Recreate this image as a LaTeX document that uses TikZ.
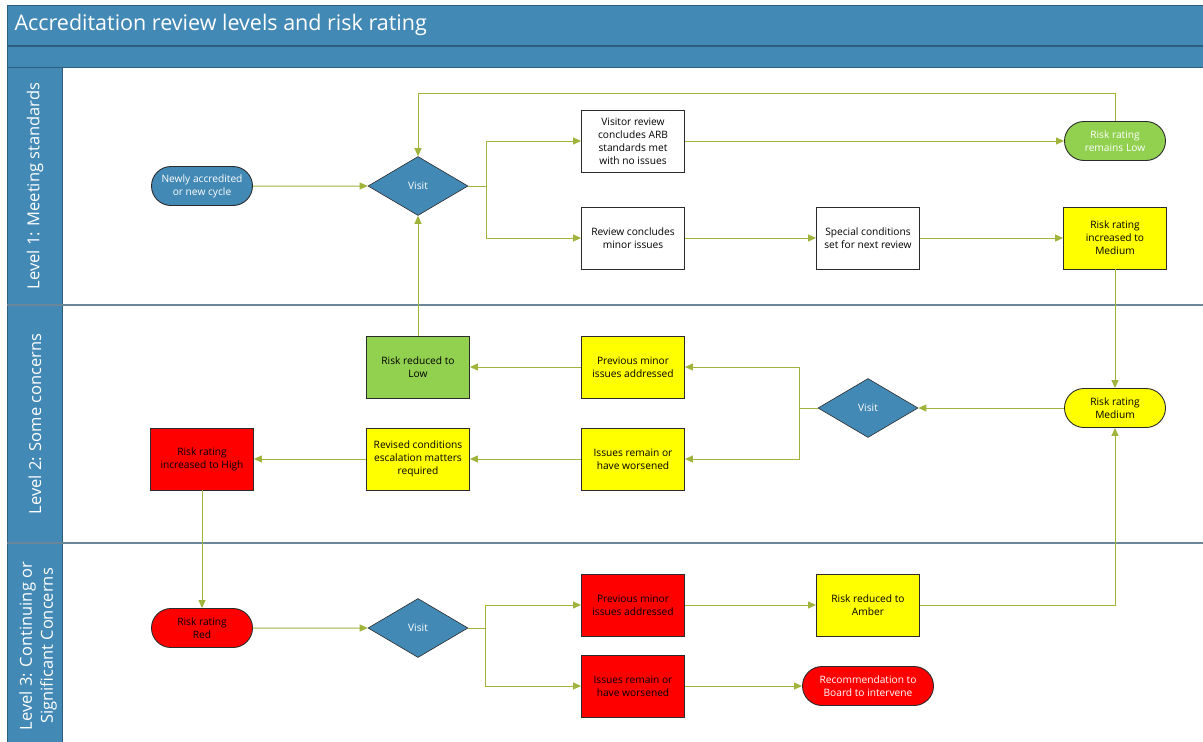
\documentclass[tikz,border=0pt]{standalone}
\usepackage{fontspec}
\setmainfont{Open Sans}
\usetikzlibrary{shapes.geometric,shapes.misc,arrows.meta}
\definecolor{hdr}{HTML}{4389B5}
\definecolor{hdrline}{HTML}{2E5E7E}
\definecolor{laneline}{HTML}{6A8698}
\definecolor{arrc}{HTML}{A0B43C}
\definecolor{grn}{HTML}{92D050}
\definecolor{yel}{HTML}{FFFF00}
\definecolor{rd}{HTML}{FF0000}
\definecolor{bord}{HTML}{2B2B2B}
\begin{document}
\begin{tikzpicture}[x=1pt,y=-1pt,
  txt/.style={font=\fontsize{10.2}{13}\selectfont, align=center, text=black},
  box/.style={txt, rectangle, draw=bord, line width=0.9pt, minimum width=103pt, minimum height=62pt, inner sep=1pt},
  term/.style={txt, rounded rectangle, draw=bord, line width=0.9pt, minimum width=103pt, minimum height=39pt, inner sep=1pt},
  dec/.style={txt, diamond, draw=bord, line width=0.6pt, fill=hdr, text=white, minimum width=100pt, minimum height=59pt, inner sep=0pt},
  arr/.style={draw=arrc, line width=1pt, -{Triangle[length=8pt,width=7pt]}},
  lanelabel/.style={text=white, rotate=90, font=\fontsize{16.5}{21}\selectfont, align=center}
]
\useasboundingbox (0,0) rectangle (1203,742);
% frame
\fill[hdr] (7,5) rectangle (1203,67);
\fill[hdr] (7,67) rectangle (62,742);
\draw[hdrline, line width=1pt] (7,742) -- (7,5) -- (1203,5);
\draw[hdrline, line width=1.2pt] (7,46) -- (1203,46);
\draw[hdrline, line width=1pt] (7,67) -- (1203,67);
\draw[hdrline, line width=1pt] (62,67) -- (62,742);
\draw[laneline, line width=1.6pt] (7,305) -- (1203,305);
\draw[laneline, line width=1.6pt] (7,543) -- (1203,543);
\node[anchor=west, text=white, font=\fontsize{21.5}{24}\selectfont] (title) at (11,25) {Accreditation review levels and risk rating};
\node[lanelabel] (l1) at (35,186) {Level 1: Meeting standards};
\node[lanelabel] (l2) at (35,424) {Level 2: Some concerns};
\node[lanelabel] (l3) at (38,646) {Level 3: Continuing or\\Significant Concerns};

% Level 1
\node[term, fill=hdr, text=white] (new) at (202,186) {Newly accredited\\or new cycle};
\node[dec] (v1) at (418,186) {Visit};
\node[box, fill=white] (visitor) at (633,141) {Visitor review\\concludes ARB\\standards met\\with no issues};
\node[box, fill=white] (review) at (633,238) {Review concludes\\minor issues};
\node[box, fill=white] (special) at (868,238) {Special conditions\\set for next review};
\node[term, fill=grn, text=white] (low) at (1115,141) {Risk rating\\remains Low};
\node[box, fill=yel] (incmed) at (1115,238) {Risk rating\\increased to\\Medium};

% Level 2
\node[term, fill=yel] (medium) at (1115,408) {Risk rating\\Medium};
\node[dec] (v2) at (868,408) {Visit};
\node[box, fill=yel] (prev2) at (633,367) {Previous minor\\issues addressed};
\node[box, fill=yel] (issues2) at (633,459) {Issues remain or\\have worsened};
\node[box, fill=grn] (redlow) at (418,367) {Risk reduced to\\Low};
\node[box, fill=yel] (revised) at (418,459) {Revised conditions\\escalation matters\\required};
\node[box, fill=rd] (high) at (202,459) {Risk rating\\increased to High};

% Level 3
\node[term, fill=rd] (red) at (202,628) {Risk rating\\Red};
\node[dec] (v3) at (418,628) {Visit};
\node[box, fill=rd] (prev3) at (633,605) {Previous minor\\issues addressed};
\node[box, fill=rd] (issues3) at (633,686) {Issues remain or\\have worsened};
\node[box, fill=yel] (amber) at (868,605) {Risk reduced to\\Amber};
\node[term, fill=rd, text=white, minimum width=133pt] (rec) at (868,686) {Recommendation to\\Board to intervene};

% connectors level 1
\draw[arr] (new) -- (v1);
\draw[arr] (v1.east) -- ++(18,0) |- (visitor.west);
\draw[arr] (v1.east) -- ++(18,0) |- (review.west);
\draw[arr] (visitor) -- (low);
\draw[arr] (low.north) -- ++(0,-28) -| (v1.north);
\draw[arr] (review) -- (special);
\draw[arr] (special) -- (incmed);
\draw[arr] (incmed.south) -- (medium.north);
% level 2
\draw[arr] (medium) -- (v2);
\draw[arr] (v2.west) -- ++(-18,0) |- (prev2.east);
\draw[arr] (v2.west) -- ++(-18,0) |- (issues2.east);
\draw[arr] (prev2) -- (redlow);
\draw[arr] (redlow.north) -- (v1.south);
\draw[arr] (issues2) -- (revised);
\draw[arr] (revised) -- (high);
\draw[arr] (high.south) -- (red.north);
% level 3
\draw[arr] (red) -- (v3);
\draw[arr] (v3.east) -- ++(17,0) |- (prev3.west);
\draw[arr] (v3.east) -- ++(17,0) |- (issues3.west);
\draw[arr] (prev3) -- (amber);
\draw[arr] (amber.east) -| (medium.south);
\draw[arr] (issues3) -- (rec);
\end{tikzpicture}
\end{document}
